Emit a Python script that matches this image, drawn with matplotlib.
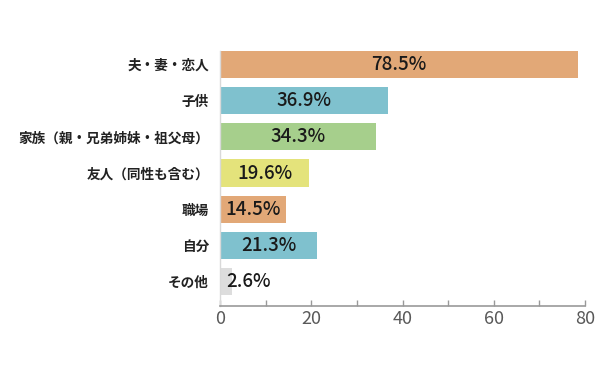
import matplotlib
matplotlib.use("Agg")
import matplotlib.pyplot as plt

categories = ["夫・妻・恋人", "子供", "家族（親・兄弟姉妹・祖父母）", "友人（同性も含む）", "職場", "自分", "その他"]
values = [78.5, 36.9, 34.3, 19.6, 14.5, 21.3, 2.6]
colors = ["#E2A877", "#7FC1CE", "#A6CF8C", "#E4E37B", "#E2A877", "#7FC1CE", "#DDDDDD"]
xticks = [0, 20, 40, 60, 80]

plt.rcParams['font.family'] = ['Noto Sans CJK JP', 'DejaVu Sans']

fig = plt.figure(figsize=(6.15, 3.81), dpi=100)
ax = fig.add_axes([220/615, 75/381, 365/615, (306-40)/381])

ypos = list(range(len(categories)))
ax.barh(ypos, values, height=0.75, color=colors, zorder=2)
for y, v in zip(ypos, values):
    if v < 10:
        ax.text(v * 0.5, y, f"{v}%", ha='left', va='center', fontsize=13.5, fontweight='medium', color='#1a1a1a', zorder=3)
    else:
        ax.text(v / 2, y, f"{v}%", ha='center', va='center', fontsize=13.5, fontweight='medium', color='#1a1a1a', zorder=3)

ybottom = len(categories) - 1 + 0.375 + 0.3
ax.set_ylim(ybottom, -0.375 - 0.3)
ax.set_xlim(0, 80)
ax.set_yticks(ypos)
ax.set_yticklabels(categories, fontsize=9.8, fontweight='bold', color='#222222')
ax.tick_params(axis='y', length=0, pad=8)
ax.set_xticks(range(0, 81, 10))
ax.set_xticklabels([str(t) if t in xticks else "" for t in range(0, 81, 10)], fontsize=13, color='#595959')
ax.tick_params(axis='x', direction='in', length=4, width=1, color='#999999', pad=3)

for s in ['top', 'right']:
    ax.spines[s].set_visible(False)
ax.spines['bottom'].set_color('#999999')
ax.spines['bottom'].set_linewidth(1.2)
ax.spines['left'].set_color('#D9D9D9')
ax.spines['left'].set_linewidth(1)
ax.spines['left'].set_bounds(ybottom, -0.375)

fig.savefig("out.png", dpi=100)
